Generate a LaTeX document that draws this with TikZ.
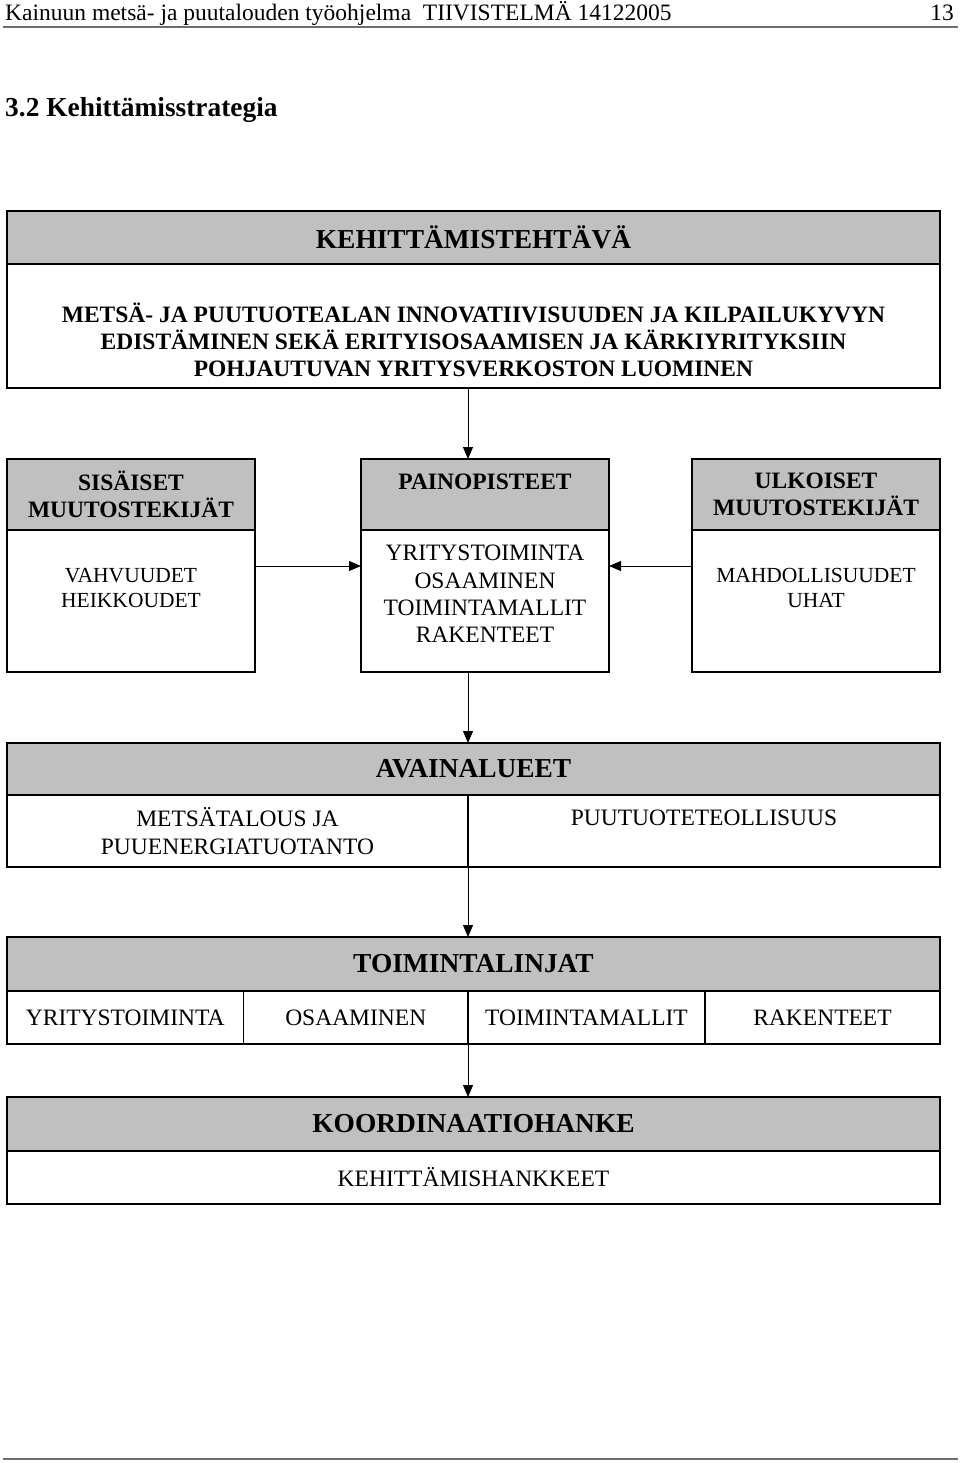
\documentclass[tikz,border=0pt]{standalone}
\usepackage{fontspec}
\setmainfont{Liberation Serif}
\usetikzlibrary{positioning, arrows.meta}
\definecolor{harmaa}{HTML}{C0C0C0}
\definecolor{viiva}{HTML}{6E6E6E}
\newcommand{\perusfont}{\fontsize{23.5}{27.2}\selectfont}
\newcommand{\pienifont}{\fontsize{21.5}{24.5}\selectfont}
\newcommand{\isofont}{\fontsize{27.4}{31.5}\selectfont}
\tikzstyle{otsake} = [rectangle, draw=black, line width=1.3pt, fill=harmaa, inner sep=0pt, outer sep=0pt, align=center, font=\isofont\bfseries]
\tikzstyle{pikkuotsake} = [otsake, minimum width=248pt, minimum height=71pt, font=\perusfont\bfseries]
\tikzstyle{runko} = [rectangle, draw=black, line width=1.3pt, fill=white, inner sep=0pt, outer sep=0pt, align=center, font=\perusfont]
\tikzstyle{teksti} = [inner sep=0pt, align=center, font=\perusfont]
\tikzstyle{arrow} = [line width=1pt, -{Triangle[length=12pt,width=10pt]}]

\begin{document}
\begin{tikzpicture}[x=1pt, y=-1pt]
\useasboundingbox (0,0) rectangle (960,1463);

% sivun ylatunniste
\node (ylatunniste) [teksti, anchor=base west] at (5,20.5) {Kainuun metsä- ja puutalouden työohjelma\ \ TIIVISTELMÄ 14122005};
\node (sivunro) [teksti, anchor=base east] at (954,20.5) {13};
\draw [viiva, line width=1.5pt] (3,27) -- (958,27);
\node (luku) [teksti, anchor=base west, font=\isofont\bfseries] at (5,117) {3.2 Kehittämisstrategia};

% kehittamistehtava
\node (tehth) [otsake, minimum width=933pt, minimum height=53pt] at (473.5,237.5) {KEHITTÄMISTEHTÄVÄ};
\node (tehtr) [runko, minimum width=933pt, minimum height=124pt] at (473.5,326) {};
\node (tehtt) [teksti, font=\perusfont\bfseries] at (473.5,340) {METSÄ- JA PUUTUOTEALAN INNOVATIIVISUUDEN JA KILPAILUKYVYN\\EDISTÄMINEN SEKÄ ERITYISOSAAMISEN JA KÄRKIYRITYKSIIN\\POHJAUTUVAN YRITYSVERKOSTON LUOMINEN};

% muutostekijat ja painopisteet
\node (sish) [pikkuotsake] at (131,494.5) {SISÄISET\\MUUTOSTEKIJÄT};
\node (sisr) [runko, minimum width=248pt, minimum height=142pt] at (131,601) {};
\node (sist) [teksti, font=\pienifont] at (131,588) {VAHVUUDET\\HEIKKOUDET};

\node (painh) [pikkuotsake] at (485,494.5) {};
\node (painot) [teksti, font=\perusfont\bfseries] at (485,482) {PAINOPISTEET};
\node (painr) [runko, minimum width=248pt, minimum height=142pt] at (485,601) {};
\node (paint) [teksti] at (485,594) {YRITYSTOIMINTA\\OSAAMINEN\\TOIMINTAMALLIT\\RAKENTEET};

\node (ulkh) [pikkuotsake] at (816,494.5) {ULKOISET\\MUUTOSTEKIJÄT};
\node (ulkr) [runko, minimum width=248pt, minimum height=142pt] at (816,601) {};
\node (ulkt) [teksti, font=\pienifont] at (816,588) {MAHDOLLISUUDET\\UHAT};

% avainalueet
\node (avh) [otsake, minimum width=933pt, minimum height=52pt] at (473.5,769) {AVAINALUEET};
\node (ava) [runko, minimum width=461pt, minimum height=72pt] at (237.5,831) {METSÄTALOUS JA\\PUUENERGIATUOTANTO};
\node (avb) [runko, minimum width=472pt, minimum height=72pt] at (704,831) {};
\node (avbt) [teksti] at (704,818) {PUUTUOTETEOLLISUUS};

% toimintalinjat
\node (toimh) [otsake, minimum width=933pt, minimum height=54pt] at (473.5,964) {TOIMINTALINJAT};
\node (toim1) [runko, minimum width=236.5pt, minimum height=53pt] at (125.25,1017.5) {YRITYSTOIMINTA};
\node (toim2) [runko, minimum width=224.5pt, minimum height=53pt] at (355.75,1017.5) {OSAAMINEN};
\node (toim3) [runko, minimum width=237pt, minimum height=53pt] at (586.5,1017.5) {TOIMINTAMALLIT};
\node (toim4) [runko, minimum width=235pt, minimum height=53pt] at (822.5,1017.5) {RAKENTEET};

% koordinaatiohanke
\node (koorh) [otsake, minimum width=933pt, minimum height=54pt] at (473.5,1124) {KOORDINAATIOHANKE};
\node (koorr) [runko, minimum width=933pt, minimum height=53pt] at (473.5,1177.5) {KEHITTÄMISHANKKEET};

\draw [viiva, line width=2pt] (3,1459) -- (958,1459);

\coordinate (akseli) at (468,0);
\coordinate (nuolitaso) at (0,566);
\draw [arrow] (tehtr.south -| akseli) -- (painh.north -| akseli);
\draw [arrow] (sisr.east |- nuolitaso) -- (painr.west |- nuolitaso);
\draw [arrow] (ulkr.west |- nuolitaso) -- (painr.east |- nuolitaso);
\draw [arrow] (painr.south -| akseli) -- (avh.north -| akseli);
\draw [arrow] (ava.south east) -- (toimh.north -| akseli);
\draw [arrow] (toim2.south east) -- (koorh.north -| akseli);

\end{tikzpicture}
\end{document}
